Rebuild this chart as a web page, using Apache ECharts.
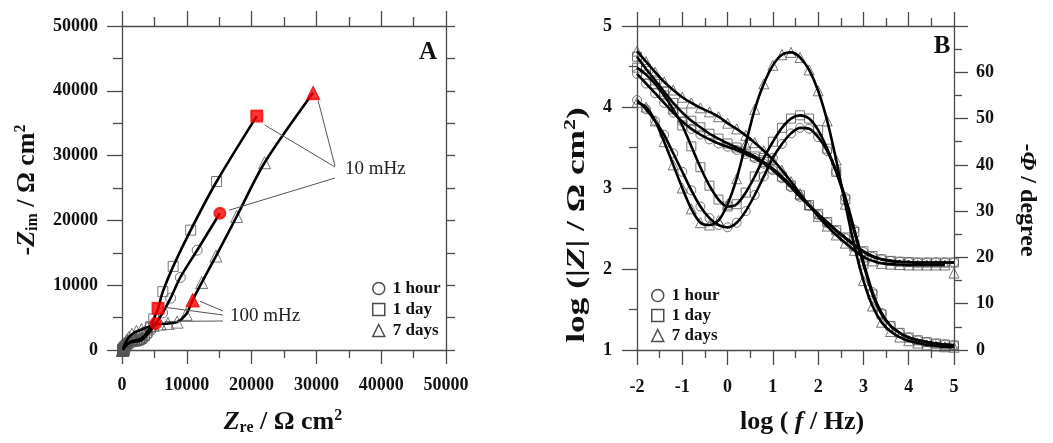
<!DOCTYPE html>
<html>
<head>
<meta charset="utf-8">
<script src="https://cdn.jsdelivr.net/npm/echarts@6/dist/echarts.min.js"></script>
<style>
  html, body { margin: 0; padding: 0; background: #fff; }
  #chart { width: 1053px; height: 443px; }
</style>
</head>
<body>
<div id="chart"></div>
<script>
// Frequencies (log f / Hz), 10 mHz to 100 kHz, five readings per decade
const logF = [-2, -1.8, -1.6, -1.4, -1.2, -1.0, -0.8, -0.6, -0.4, -0.2,
  0, 0.2, 0.4, 0.6, 0.8, 1.0, 1.2, 1.4, 1.6, 1.8,
  2.0, 2.2, 2.4, 2.6, 2.8, 3.0, 3.2, 3.4, 3.6, 3.8,
  4.0, 4.2, 4.4, 4.6, 4.8, 5.0];

// Nyquist data [Zre, -Zim] in ohm cm2, same frequency order as logF
const nyq1h = [[15100,21100],[11600,15400],[9000,11200],[7500,8000],[6270,5740],[5200,4100],
  [4480,3060],[3920,2350],[3500,1900],[3160,1610],[2900,1440],[2620,1360],[2290,1320],[1950,1290],
  [1590,1220],[1240,1100],[940,925],[684,729],[515,560],[396,436],[320,332],[272,254],[233,185],
  [201,131],[175,88],[153,53],[140,30],[132,17],[127,11],[125,8],[123,6],[122,4],[121,3],[121,3],
  [120,2],[120,2]];
const nyq1d = [[20800,36100],[14600,26000],[10600,18500],[7900,12900],[6300,9000],[5560,6430],
  [4900,4800],[4370,3540],[3810,2720],[3440,2190],[3040,1830],[2700,1650],[2340,1580],[1950,1490],
  [1570,1380],[1230,1230],[923,1025],[689,821],[515,629],[397,473],[324,353],[276,262],[236,188],
  [207,132],[180,86],[157,53],[145,35],[136,22],[130,13],[126,8],[124,5],[123,3],[122,2],[122,2],
  [122,1],[122,1]];
const nyq7d = [[29500,39700],[22000,28900],[17700,20600],[14500,14500],[12300,10400],[10900,7700],
  [9900,5500],[8500,4300],[7100,4100],[5900,4000],[4800,3800],[3900,3500],[3000,3150],[2230,2860],
  [1550,2430],[1070,1970],[733,1489],[521,1083],[384,760],[304,537],[250,371],[220,258],[198,173],
  [178,109],[157,65],[136,37],[124,21],[117,12],[115,8],[115,6],[114,4],[113,3],[113,2],[112,1],
  [112,1],[112,1]];

// Bode modulus, log(|Z| / ohm cm2)
const logZ1h = [4.41,4.29,4.17,4.05,3.93,3.82,3.73,3.66,3.60,3.55,3.51,3.47,3.42,3.37,3.30,3.22,
  3.12,3.01,2.89,2.78,2.67,2.57,2.47,2.38,2.29,2.21,2.15,2.12,2.10,2.09,2.085,2.08,2.08,2.08,2.08,2.08];
const logZ1d = [4.62,4.47,4.33,4.19,4.05,3.93,3.83,3.75,3.67,3.61,3.55,3.50,3.45,3.39,3.32,3.24,
  3.14,3.03,2.91,2.79,2.68,2.58,2.48,2.39,2.30,2.22,2.16,2.12,2.10,2.09,2.085,2.08,2.08,2.08,2.08,2.08];
const logZ7d = [4.69,4.56,4.43,4.31,4.21,4.12,4.05,3.99,3.94,3.88,3.80,3.73,3.65,3.56,3.46,3.35,
  3.22,3.08,2.93,2.79,2.65,2.53,2.42,2.32,2.23,2.15,2.10,2.07,2.06,2.055,2.05,2.05,2.05,2.05,2.05,1.95];

// Bode phase, -phi / degree
const ph1h = [54,52,49.5,46.5,42.5,38.5,34.5,31,28.5,27,26.5,27.5,30,33.5,37.5,41.5,44.5,46.8,48,
  47.8,46,43,38.5,33,26,19,12.5,8,5.2,3.7,2.7,2.1,1.7,1.4,1.2,1.0];
const ph1d = [61,59.5,57.5,55,52,48.5,44,39.5,35.5,32.5,31,31.5,34,37.5,41.5,45,48,50,50.7,
  50,47.5,43.5,38.5,32.5,25.5,18.5,12,7.7,5.2,3.7,2.7,2.1,1.7,1.4,1.2,1.0];
const ph7d = [53.5,52.5,49.5,45,40,35,30.5,27.5,27,28,31.5,37,44.5,52,57.5,61.5,63.8,64.3,63.2,
  60.5,56,49.5,41,31.5,22.5,15,9.5,6,4,2.8,2,1.5,1.1,0.9,0.7,0.6];

// Positions in logF of the highlighted frequencies
const idx10mHz = 0;
const idx100mHz = 5;

const seriesNames = ['1 hour', '1 day', '7 days'];
const symbols = ['circle', 'rect', 'triangle'];

const SERIF = '"Liberation Serif", "Times New Roman", serif';
const AXIS_COLOR = '#4a4a4a';

const chart = echarts.init(document.getElementById('chart'), null, { renderer: 'canvas' });

function pairs(xs, ys) { return xs.map((x, i) => [x, ys[i]]); }

const tickLabel = { show: true, fontFamily: SERIF, fontWeight: 'bold', fontSize: 18, color: '#111',
  formatter: v => String(v) };

function axisBase(extra) {
  return Object.assign({
    type: 'value',
    axisLine: { show: true, onZero: false, lineStyle: { color: AXIS_COLOR, width: 1.3 } },
    axisTick: { show: true, inside: false, length: 14, lineStyle: { color: AXIS_COLOR, width: 1.3 } },
    minorTick: { show: true, splitNumber: 2, length: 8, lineStyle: { color: AXIS_COLOR, width: 1.3 } },
    splitLine: { show: false },
    axisLabel: tickLabel
  }, extra);
}
function ticks(major, minor) {
  return {
    axisTick: { show: true, inside: false, length: major, lineStyle: { color: AXIS_COLOR, width: 1.3 } },
    minorTick: { show: true, splitNumber: 2, length: minor, lineStyle: { color: AXIS_COLOR, width: 1.3 } }
  };
}

const markerStyle = { color: 'transparent', borderColor: '#555', borderWidth: 1 };
const fitLine = { color: '#000', width: 2.6 };

const series = [];
const nyq = [nyq1h, nyq1d, nyq7d];
const logZ = [logZ1h, logZ1d, logZ7d];
const ph = [ph1h, ph1d, ph7d];
const symSizeA = [10, 10, 12];
const symSizeB = [9, 9, 10];

for (let k = 0; k < 3; k++) {
  // Nyquist: measured points, then the fitted curve on top
  series.push({
    name: seriesNames[k], type: 'scatter', xAxisIndex: 0, yAxisIndex: 0,
    data: nyq[k], symbol: symbols[k], symbolSize: symSizeA[k], itemStyle: markerStyle, z: 2
  });
  series.push({
    name: seriesNames[k] + ' fit', type: 'line', xAxisIndex: 0, yAxisIndex: 0,
    data: nyq[k], smooth: 0.3, showSymbol: false, lineStyle: fitLine, z: 3
  });
  // Bode modulus
  series.push({
    name: seriesNames[k], type: 'scatter', xAxisIndex: 2, yAxisIndex: 2,
    data: pairs(logF, logZ[k]), symbol: symbols[k], symbolSize: symSizeB[k], itemStyle: markerStyle, z: 2
  });
  // the last 7-day reading sits off the fitted plateau, so the fit stops before it
  const zFit = k === 2 ? pairs(logF, logZ[k]).slice(0, -1) : pairs(logF, logZ[k]);
  series.push({
    name: seriesNames[k] + ' |Z| fit', type: 'line', xAxisIndex: 2, yAxisIndex: 2,
    data: zFit, smooth: 0.3, showSymbol: false, lineStyle: fitLine, z: 3
  });
  // Bode phase
  series.push({
    name: seriesNames[k], type: 'scatter', xAxisIndex: 2, yAxisIndex: 3,
    data: pairs(logF, ph[k]), symbol: symbols[k], symbolSize: symSizeB[k], itemStyle: markerStyle, z: 2
  });
  series.push({
    name: seriesNames[k] + ' phase fit', type: 'line', xAxisIndex: 2, yAxisIndex: 3,
    data: pairs(logF, ph[k]), smooth: 0.3, showSymbol: false, lineStyle: fitLine, z: 3
  });
  // 10 mHz and 100 mHz points in red
  series.push({
    name: seriesNames[k] + ' marked', type: 'scatter', xAxisIndex: 0, yAxisIndex: 0,
    data: [nyq[k][idx10mHz], nyq[k][idx100mHz]], symbol: symbols[k],
    symbolSize: k === 2 ? 15 : 13, itemStyle: { color: '#ff0000', borderWidth: 0 }, z: 5
  });
}

function legendFor(left, top, gap) {
  return {
    left: left, top: top, orient: 'vertical', selectedMode: false,
    itemWidth: 12, itemHeight: 12, itemGap: gap,
    textStyle: { fontFamily: SERIF, fontWeight: 'bold', fontSize: 17, color: '#111', padding: [0, 0, 0, 3] },
    data: seriesNames.map((n, i) => ({
      name: n, icon: symbols[i],
      itemStyle: { color: 'transparent', borderColor: '#222', borderWidth: 1.5 }
    }))
  };
}

function titleFont(size) { return { fontFamily: SERIF, fontWeight: 'bold', fontSize: size, fill: '#111' }; }
function richTitle(size) {
  const f = titleFont(size);
  const s = Math.round(size * 0.62);
  const off = Math.round(size * 0.46);
  return {
    n: Object.assign({}, f),
    i: Object.assign({}, f, { fontStyle: 'italic' }),
    sub: Object.assign({}, f, { fontSize: s, verticalAlign: 'bottom', padding: [off, 0, 0, 0] }),
    sup: Object.assign({}, f, { fontSize: s, verticalAlign: 'top', padding: [0, 0, off, 0] })
  };
}

function titleText(x, y, text, rotation, size, stretch) {
  return {
    type: 'text', x: x, y: y, rotation: rotation || 0, scaleX: stretch || 1, z: 10,
    style: Object.assign({ text: text, rich: richTitle(size), align: 'center', verticalAlign: 'middle' }, titleFont(size))
  };
}

chart.setOption({
  animation: false,
  backgroundColor: '#fff',
  grid: [
    { left: 122, top: 26, width: 324, height: 324 },
    { left: 637, top: 26, width: 317, height: 324 }
  ],
  xAxis: [
    axisBase(Object.assign({ gridIndex: 0, position: 'bottom', min: 0, max: 50000, interval: 10000,
      axisLabel: Object.assign({}, tickLabel, { margin: 26 }) }, ticks(14, 8))),
    axisBase(Object.assign({ gridIndex: 0, position: 'top', min: 0, max: 50000, interval: 10000,
      axisLabel: { show: false } }, ticks(15, 9))),
    axisBase(Object.assign({ gridIndex: 1, position: 'bottom', min: -2, max: 5, interval: 1,
      axisLabel: Object.assign({}, tickLabel, { margin: 28 }) }, ticks(15, 8))),
    axisBase(Object.assign({ gridIndex: 1, position: 'top', min: -2, max: 5, interval: 1,
      axisLabel: { show: false } }, ticks(14, 8)))
  ],
  yAxis: [
    axisBase(Object.assign({ gridIndex: 0, position: 'left', min: 0, max: 50000, interval: 10000,
      axisLabel: Object.assign({}, tickLabel, { margin: 24 }) }, ticks(15, 9))),
    axisBase(Object.assign({ gridIndex: 0, position: 'right', min: 0, max: 50000, interval: 10000,
      axisLabel: { show: false } }, ticks(9, 9))),
    axisBase(Object.assign({ gridIndex: 1, position: 'left', min: 1, max: 5, interval: 1,
      axisLabel: Object.assign({}, tickLabel, { margin: 25 }) }, ticks(15, 8))),
    axisBase(Object.assign({ gridIndex: 1, position: 'right', min: 0, max: 70, interval: 10,
      axisLabel: Object.assign({}, tickLabel, { margin: 22, showMaxLabel: false }) }, ticks(14, 8)))
  ],
  legend: [legendFor(367, 275, 4), legendFor(646, 282, 3)],
  series: series
});

// Annotation leaders are anchored on the highlighted data points
function px(point) { return chart.convertToPixel({ xAxisIndex: 0, yAxisIndex: 0 }, point); }
const leaderStyle = { stroke: '#555', lineWidth: 1 };
function leader(from, point, dx, dy) {
  const p = px(point);
  return { type: 'line', z: 6, shape: { x1: from[0], y1: from[1], x2: p[0] + dx, y2: p[1] + dy }, style: leaderStyle };
}
const noteFont = { fontFamily: SERIF, fontSize: 19, fill: '#222' };

chart.setOption({
  graphic: [
    leader([335, 166], nyq7d[idx10mHz], 5, 8),
    leader([335, 167], nyq1d[idx10mHz], 8, 9),
    leader([335, 178], nyq1h[idx10mHz], 9, -3),
    leader([223, 311], nyq7d[idx100mHz], 7, 1),
    leader([223, 315], nyq1d[idx100mHz], 7, -1),
    leader([223, 321], nyq1h[idx100mHz], 9, -2),
    { type: 'text', x: 345, y: 169, z: 10,
      style: Object.assign({ text: '10 mHz', align: 'left', verticalAlign: 'middle' }, noteFont) },
    { type: 'text', x: 230, y: 316, z: 10,
      style: Object.assign({ text: '100 mHz', align: 'left', verticalAlign: 'middle' }, noteFont) },
    { type: 'text', x: 428, y: 53, z: 10,
      style: { text: 'A', align: 'center', verticalAlign: 'middle', fontFamily: SERIF, fontWeight: 'bold', fontSize: 25, fill: '#111' } },
    { type: 'text', x: 942, y: 47, z: 10,
      style: { text: 'B', align: 'center', verticalAlign: 'middle', fontFamily: SERIF, fontWeight: 'bold', fontSize: 25, fill: '#111' } },
    titleText(283, 422, '{i|Z}{sub|re}{n| / Ω cm}{sup|2}', 0, 26),
    titleText(27, 190, '{n|-}{i|Z}{sub|im}{n| / Ω cm}{sup|2}', Math.PI / 2, 26),
    titleText(802, 422, '{n|log ( }{i|f}{n| / Hz)}', 0, 26),
    titleText(577, 225, '{n|log (|}{i|Z}{n|| / Ω cm}{sup|2}{n|)}', Math.PI / 2, 26, 1.36),
    titleText(1027, 200, '{n|-}{i|Φ}{n| / degree}', -Math.PI / 2, 24)
  ]
});
</script>
</body>
</html>
